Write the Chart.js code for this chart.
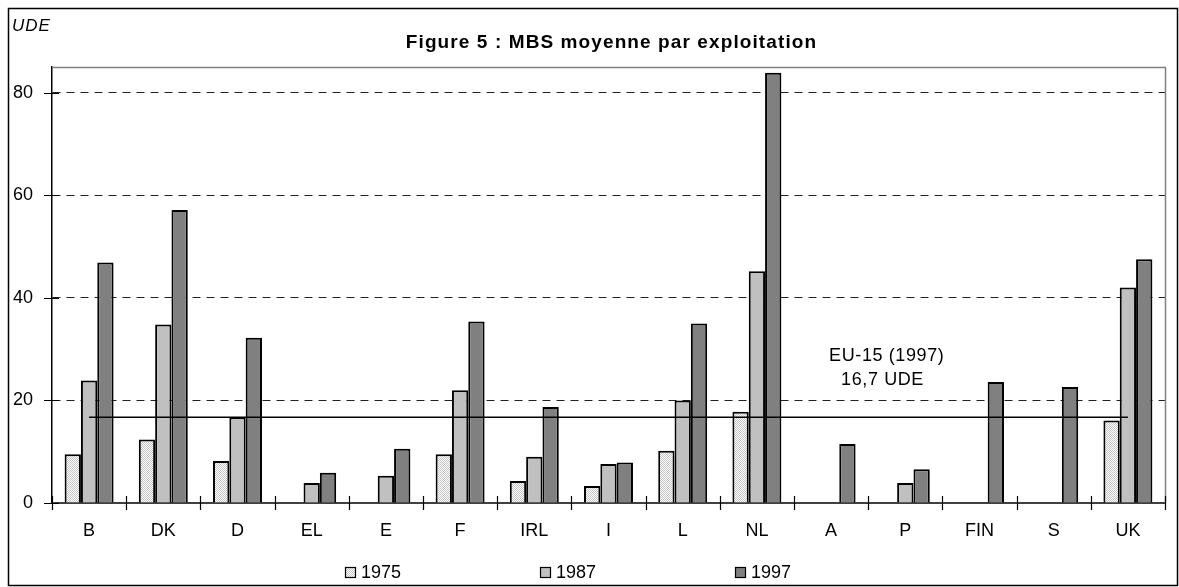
<!DOCTYPE html>
<html>
<head>
<meta charset="utf-8">
<script src="https://cdn.jsdelivr.net/npm/chart.js@4.4.1/dist/chart.umd.min.js"></script>
<style>
  html, body { margin: 0; padding: 0; background: #ffffff; }
  #wrap { width: 1179px; height: 587px; position: relative; }
</style>
</head>
<body>
<div id="wrap"><canvas id="mbsChart"></canvas></div>
<script>
// Chart data
const categories = ["B", "DK", "D", "EL", "E", "F", "IRL", "I", "L", "NL", "A", "P", "FIN", "S", "UK"];
const seriesLabels = ["1975", "1987", "1997"];
const values1975 = [9.5, 12.4, 8.2, null, null, 9.5, 4.3, 3.3, 10.2, 17.8, null, null, null, null, 16.1];
const values1987 = [23.9, 34.8, 16.7, 3.9, 5.3, 22.0, 9.0, 7.6, 20.0, 45.2, null, 3.9, null, null, 42.0];
const values1997 = [46.9, 57.1, 32.2, 5.9, 10.6, 35.4, 18.7, 7.9, 35.0, 83.9, 11.5, 6.6, 23.6, 22.6, 47.5];
const euAverage = 16.7;
const yTicks = [0, 20, 40, 60, 80];

const FONT = "'Liberation Sans', Arial, sans-serif";

// stippled fill used by the 1975 bars
function makeDotPattern() {
  const c = document.createElement("canvas");
  c.width = 2;
  c.height = 2;
  const g = c.getContext("2d");
  g.fillStyle = "#ffffff";
  g.fillRect(0, 0, 2, 2);
  g.fillStyle = "#c4c4c4";
  g.fillRect(0, 0, 1, 1);
  g.fillRect(1, 1, 1, 1);
  return g.createPattern(c, "repeat");
}

const barColors = [makeDotPattern(), "#c0c0c0", "#808080"];

// frame, title, legend, crossing tick marks and the EU-15 note
const decorPlugin = {
  id: "decor",
  beforeDatasetsDraw(chart) {
    const { ctx, chartArea: a } = chart;
    ctx.save();
    ctx.strokeStyle = "#808080";
    ctx.lineWidth = 1.5;
    ctx.beginPath();
    ctx.moveTo(a.left, a.top + 0.5);
    ctx.lineTo(a.right + 0.5, a.top + 0.5);
    ctx.lineTo(a.right + 0.5, a.bottom);
    ctx.stroke();
    ctx.restore();
  },
  afterDatasetsDraw(chart) {
    const { ctx, chartArea: a, scales } = chart;
    const x = scales.x;
    const y = scales.y;
    ctx.save();
    ctx.strokeStyle = "#000000";
    ctx.lineWidth = 1.2;
    ctx.beginPath();
    yTicks.forEach((v) => {
      const py = Math.round(y.getPixelForValue(v)) + 0.5;
      ctx.moveTo(a.left - 8, py);
      ctx.lineTo(a.left + 7, py);
    });
    const step = (a.right - a.left) / categories.length;
    for (let i = 0; i <= categories.length; i++) {
      const px = Math.round(a.left + i * step) + 0.5;
      ctx.moveTo(px, a.bottom - 7);
      ctx.lineTo(px, a.bottom + 7);
    }
    ctx.stroke();

    // EU-15 note, anchored on the "A" category
    ctx.fillStyle = "#000000";
    ctx.font = "18px " + FONT;
    ctx.letterSpacing = "0.6px";
    ctx.textBaseline = "middle";
    ctx.textAlign = "left";
    const ax = x.getPixelForValue(categories.indexOf("A"));
    ctx.fillText("EU-15 (1997)", ax - 2, y.getPixelForValue(28.6));
    ctx.fillText("16,7 UDE", ax + 10, y.getPixelForValue(23.9));
    ctx.restore();
  },
  afterDraw(chart) {
    const { ctx, chartArea: a } = chart;
    ctx.save();
    ctx.fillStyle = "#000000";
    ctx.textBaseline = "middle";

    // title
    ctx.font = "bold 19px " + FONT;
    ctx.letterSpacing = "1.1px";
    ctx.textAlign = "center";
    ctx.fillText("Figure 5 : MBS moyenne par exploitation", (a.left + a.right) / 2 + 3, 43);

    // unit
    ctx.font = "italic 17px " + FONT;
    ctx.letterSpacing = "1px";
    ctx.textAlign = "left";
    ctx.fillText("UDE", 12, 26);

    // legend
    ctx.font = "18px " + FONT;
    ctx.letterSpacing = "0px";
    seriesLabels.forEach((label, i) => {
      const lx = 345 + i * 195;
      const ly = 572;
      ctx.fillStyle = barColors[i];
      ctx.fillRect(lx, ly - 5, 10, 10);
      ctx.strokeStyle = "#000000";
      ctx.lineWidth = 1.2;
      ctx.strokeRect(lx + 0.5, ly - 4.5, 10, 10);
      ctx.fillStyle = "#000000";
      ctx.fillText(label, lx + 16, ly + 1);
    });

    // outer frame
    ctx.strokeStyle = "#000000";
    ctx.lineWidth = 1.5;
    ctx.strokeRect(8.5, 8.5, chart.width - 10, chart.height - 10);
    ctx.restore();
  },
};

const barDataset = (label, data, i) => ({
  type: "bar",
  label: label,
  data: data,
  backgroundColor: barColors[i],
  borderColor: "#000000",
  borderWidth: 2,
  categoryPercentage: 0.66,
  barPercentage: 1.0,
  order: 1,
});

new Chart(document.getElementById("mbsChart"), {
  type: "bar",
  data: {
    labels: categories,
    datasets: [
      {
        type: "line",
        label: "EU-15 (1997)",
        data: categories.map(() => euAverage),
        borderColor: "#000000",
        borderWidth: 1.5,
        pointRadius: 0,
        fill: false,
        order: 0,
      },
      barDataset(seriesLabels[0], values1975, 0),
      barDataset(seriesLabels[1], values1987, 1),
      barDataset(seriesLabels[2], values1997, 2),
    ],
  },
  options: {
    responsive: true,
    maintainAspectRatio: false,
    animation: false,
    devicePixelRatio: 1,
    layout: {
      padding: { top: 67, right: 14, left: 0, bottom: 0 },
    },
    plugins: {
      legend: { display: false },
      title: { display: false },
      tooltip: { enabled: false },
    },
    scales: {
      x: {
        offset: true,
        grid: { display: true, drawOnChartArea: false, drawTicks: false },
        border: { display: true, color: "#404040", width: 2 },
        ticks: {
          color: "#000000",
          padding: 17,
          maxRotation: 0,
          autoSkip: false,
          font: { family: FONT, size: 18 },
        },
        afterFit: (scale) => {
          scale.height = 84;
        },
      },
      y: {
        min: 0,
        max: 85,
        afterBuildTicks: (axis) => {
          axis.ticks = yTicks.map((v) => ({ value: v }));
        },
        grid: {
          drawTicks: false,
          lineWidth: 1,
          color: (ctx) => (ctx.tick && ctx.tick.value === 0 ? "rgba(0,0,0,0)" : "#222222"),
        },
        border: { display: true, color: "#000000", width: 1.5, dash: [8, 6] },
        ticks: {
          color: "#000000",
          padding: 19,
          font: { family: FONT, size: 18 },
        },
        afterFit: (scale) => {
          scale.width = 52;
        },
      },
    },
  },
  plugins: [decorPlugin],
});
</script>
</body>
</html>
